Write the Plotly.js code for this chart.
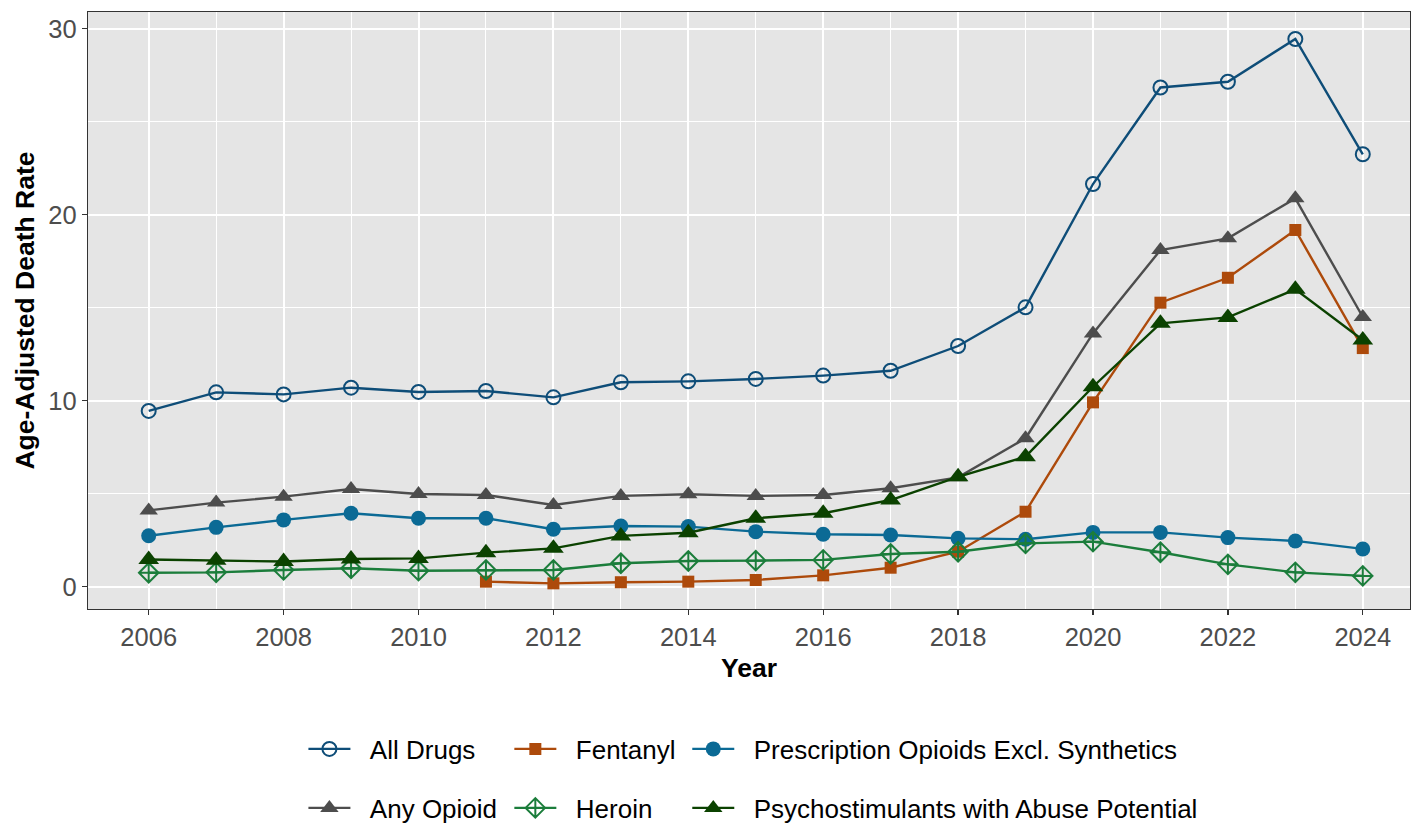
<!DOCTYPE html>
<html>
<head>
<meta charset="utf-8">
<script src="https://cdn.plot.ly/plotly-3.0.1.min.js"></script>
<style>html,body{margin:0;padding:0;background:#fff;}#chart{width:1412px;height:823px;}</style>
</head>
<body>
<div id="chart"></div>
<script>
const years = [2006,2007,2008,2009,2010,2011,2012,2013,2014,2015,2016,2017,2018,2019,2020,2021,2022,2023,2024];
const allDrugs = [9.45,10.45,10.34,10.7,10.47,10.52,10.18,10.99,11.04,11.17,11.35,11.61,12.94,15.02,21.65,26.84,27.15,29.45,23.25];
const anyOpioid = [4.1,4.52,4.84,5.25,4.98,4.93,4.39,4.88,4.97,4.88,4.93,5.29,5.88,7.98,13.62,18.1,18.73,20.88,14.5];
const fentanyl = [null,null,null,null,null,0.27,0.18,0.24,0.27,0.36,0.61,1.02,1.88,4.03,9.91,15.27,16.61,19.18,12.83];
const prescription = [2.74,3.19,3.59,3.95,3.68,3.68,3.09,3.26,3.23,2.96,2.82,2.78,2.6,2.55,2.92,2.92,2.64,2.46,2.03];
const heroin = [0.75,0.77,0.9,0.99,0.86,0.9,0.9,1.26,1.38,1.4,1.44,1.76,1.88,2.33,2.42,1.85,1.2,0.77,0.58];
const psych = [1.46,1.42,1.35,1.49,1.52,1.83,2.06,2.73,2.9,3.68,3.95,4.66,5.91,6.99,10.75,14.16,14.48,15.99,13.26];

const seriesNames = ["All Drugs","Any Opioid","Fentanyl","Prescription Opioids Excl. Synthetics","Heroin","Psychostimulants with Abuse Potential"];

const FONT = "Liberation Sans, Arial, sans-serif";
const PAD = "\u00a0\u00a0";

function tr(name, y, color, symbol, size, legendId, lw) {
  return {
    type: 'scatter', mode: 'lines+markers', name: PAD + name, x: years, y: y,
    line: {color: color, width: 2.4},
    marker: {color: color, symbol: symbol, size: size, line: {color: color, width: lw}},
    legend: legendId
  };
}

const traces = [
  tr(seriesNames[0], allDrugs, '#0E4D78', 'circle-open', 14, 'legend', 2),
  tr(seriesNames[1], anyOpioid, '#4D4D4D', 'triangle-up', 16, 'legend2', 0),
  tr(seriesNames[2], fentanyl, '#AD4A0B', 'square', 12, 'legend3', 0),
  tr(seriesNames[3], prescription, '#0B6A95', 'circle', 15, 'legend5', 0),
  tr(seriesNames[4], heroin, '#1B7D3B', 'diamond-cross-open', 15, 'legend4', 2),
  tr(seriesNames[5], psych, '#0B4200', 'triangle-up', 18, 'legend6', 0)
];

const W = 1412, H = 823;
const L = 87.5, R = 1410, T = 12, B = 609;
const pw = R - L, ph = B - T;

function leg(xp, yp) {
  return {x: (xp - L) / pw, y: (B - yp) / ph,
          xanchor: 'left', yanchor: 'middle', orientation: 'v',
          bgcolor: 'rgba(0,0,0,0)', borderwidth: 0, itemwidth: 42,
          font: {family: FONT, size: 26, color: '#000'}};
}

const row1 = 749, row2 = 808;
const layout = {
  width: W, height: H,
  margin: {l: L, r: W - R, t: T, b: H - B, autoexpand: false},
  paper_bgcolor: '#ffffff',
  plot_bgcolor: '#E5E5E5',
  showlegend: true,
  font: {family: FONT, size: 24, color: '#000'},
  xaxis: {
    range: [2005.1, 2024.7], tickmode: 'linear', tick0: 2006, dtick: 2,
    showgrid: true, gridcolor: '#ffffff', gridwidth: 2,
    minor: {tickmode: 'linear', tick0: 2007, dtick: 2, showgrid: true, gridcolor: '#ffffff', gridwidth: 1, ticks: ''},
    zeroline: false, showline: true, mirror: true, linecolor: '#333333', linewidth: 1.3,
    ticks: 'outside', ticklen: 5, tickwidth: 1.3, tickcolor: '#333333',
    tickfont: {family: FONT, size: 25.5, color: '#4D4D4D'},
    title: {text: '<b>Year</b>', font: {family: FONT, size: 26.5, color: '#000'}, standoff: 8}
  },
  yaxis: {
    range: [-1.2, 30.9], tickmode: 'array', tickvals: [0,10,20,30],
    showgrid: true, gridcolor: '#ffffff', gridwidth: 2,
    minor: {tickmode: 'array', tickvals: [5,15,25], showgrid: true, gridcolor: '#ffffff', gridwidth: 1, ticks: ''},
    zeroline: false, showline: true, mirror: true, linecolor: '#333333', linewidth: 1.3,
    ticks: 'outside', ticklen: 5, tickwidth: 1.3, tickcolor: '#333333',
    tickfont: {family: FONT, size: 25.5, color: '#4D4D4D'},
    title: {text: '<b>Age-Adjusted Death Rate</b>', font: {family: FONT, size: 26.5, color: '#000'}, standoff: 6}
  },
  legend: leg(303, row1),
  legend2: leg(303, row2),
  legend3: leg(509, row1),
  legend4: leg(509, row2),
  legend5: leg(687, row1),
  legend6: leg(687, row2)
};

Plotly.newPlot('chart', traces, layout, {displayModeBar: false, staticPlot: true});
</script>
</body>
</html>
